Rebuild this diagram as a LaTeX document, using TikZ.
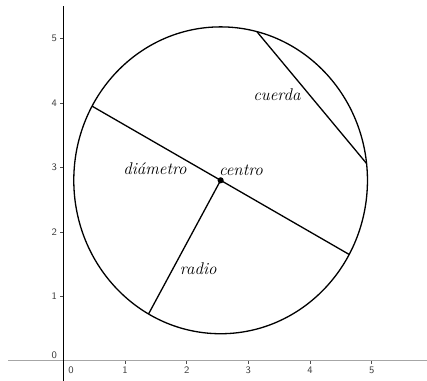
\documentclass[tikz,border=0pt]{standalone}
\usetikzlibrary{calc}
\begin{document}
\begin{tikzpicture}[x=40.1pt,y=41.9pt,
  geo/.style={line width=0.85pt,black},
  lbl/.style={font=\fontsize{11}{13}\selectfont\itshape,inner sep=0pt},
  tick/.style={font=\fontsize{6.5}{7}\sffamily,text=black!75,inner sep=0pt}]
\useasboundingbox (-1.026,-0.310) rectangle (5.895,5.597);
% axes
\draw[gray!70,line width=0.7pt] (-0.896,0) -- (5.895,0);
\draw[black,line width=0.6pt] (0,-0.310) -- (0,5.504);
\foreach \k in {1,...,5}{
  \draw[black!70,line width=0.4pt] (\k,0) -- (\k,-0.05);
  \node[tick] (xl\k) at (\k,-0.14) {\k};
  \draw[black!70,line width=0.4pt] (0,\k) -- (-0.05,\k);
  \node[tick,anchor=east] (yl\k) at (-0.1,\k) {\k};
}
\node[tick] (xl0) at (0.125,-0.14) {0};
\node[tick,anchor=east] (yl0) at (-0.1,0.093) {0};
% circle
\coordinate (c) at (2.55,2.8);
\draw[geo] (c) circle[radius=2.38];
\coordinate (d1) at ($(c)+(151.1:2.38)$);
\coordinate (d2) at ($(c)+(-28.9:2.38)$);
\coordinate (r1) at ($(c)+(240.6:2.38)$);
\coordinate (k1) at ($(c)+(75.7:2.38)$);
\coordinate (k2) at ($(c)+(6.3:2.38)$);
\draw[geo] (d1) -- (d2);
\draw[geo] (c) -- (r1);
\draw[geo] (k1) -- (k2);
\node[circle,fill=black,inner sep=0pt,minimum size=4pt] (cd) at (c) {};
% labels
\node[lbl] (lc) at (2.88,2.96) {centro};
\node[lbl] (ld) at (1.486,2.977) {diámetro};
\node[lbl] (lk) at (3.463,4.124) {cuerda};
\node[lbl] (lr) at (2.188,1.426) {radio};
\end{tikzpicture}
\end{document}
